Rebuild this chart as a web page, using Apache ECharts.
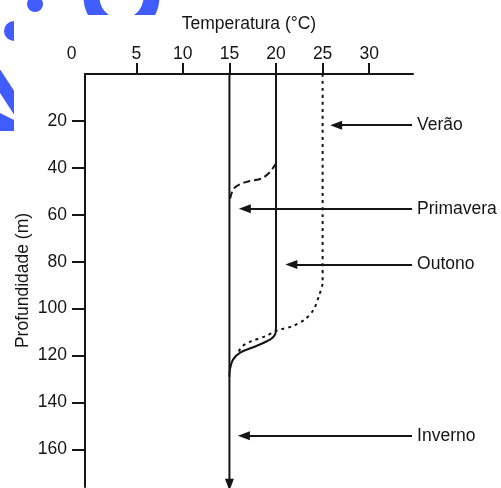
<!DOCTYPE html>
<html>
<head>
<meta charset="utf-8">
<script src="https://cdn.jsdelivr.net/npm/echarts@6/dist/echarts.min.js"></script>
<style>html,body{margin:0;padding:0;background:#fff;}#c{width:501px;height:488px;}</style>
</head>
<body>
<div id="c"></div>
<script>
// ---- data ----
const xTicks = [0, 5, 10, 15, 20, 25, 30];
const xTickMarks = [5, 10, 15, 20, 25, 30];
const yTicks = [20, 40, 60, 80, 100, 120, 140, 160];

const winterT = [15, 15];
const winterD = [0, 175];

const autumnT = [20, 20, 19.9, 19.4, 17.9, 16.2, 15.4, 15.05, 15];
const autumnD = [0, 108, 111, 113.1, 115.9, 118.6, 121.6, 125.9, 129];

const springT = [20, 19.3, 18.4, 17.2, 16.1, 15.4, 15.05];
const springD = [38, 42, 44.6, 45.6, 47, 49.2, 53.5];

const summerT = [25, 25, 24.6, 24.05, 23.1, 21.8, 20.5, 19.95, 18.9, 17.4, 16.4, 15.9];
const summerD = [0, 88.8, 94.6, 100.3, 104.6, 107.4, 108.8, 109.6, 111.7, 113.8, 116, 118.8];

const annoLabels = ['Verão', 'Primavera', 'Outono', 'Inverno'];
const annoDepth = [21.8, 57.4, 81.2, 154.2];
const annoTipT = [26.45, 16.65, 21.65, 16.55];
const annoTailT = [34.6, 34.6, 34.6, 34.6];

const xName = 'Temperatura (°C)';
const yName = 'Profundidade (m)';

// ---- chart ----
const FONT = 'Liberation Sans, Arial, sans-serif';
const FS = 17.5;
const INK = '#151515';
const BLUE = '#405cff';

function pairs(t, d) { return t.map((v, i) => [v, d[i]]); }

const winterData = pairs(winterT, winterD).map((p, i, a) => i === a.length - 1
  ? { value: p, symbol: 'triangle', symbolSize: [9, 12], symbolRotate: 180, itemStyle: { color: INK } }
  : { value: p, symbol: 'none' });

const markData = annoLabels.map((name, i) => [
  { coord: [annoTailT[i], annoDepth[i]], name: name },
  { coord: [annoTipT[i], annoDepth[i]] }
]);

const chart = echarts.init(document.getElementById('c'), null, { renderer: 'canvas' });
chart.setOption({
  backgroundColor: '#fff',
  animation: false,
  textStyle: { fontFamily: FONT },
  graphic: [
    { type: 'arc', z: 0, shape: { cx: 121.5, cy: -3, r: 30, startAngle: 0, endAngle: Math.PI }, style: { stroke: BLUE, lineWidth: 16, fill: null } },
    { type: 'circle', z: 0, shape: { cx: 35, cy: 4, r: 8 }, style: { fill: BLUE } },
    { type: 'circle', z: 0, shape: { cx: 14, cy: 31, r: 10 }, style: { fill: BLUE } },
    { type: 'line', z: 0, shape: { x1: -6, y1: 72, x2: 24, y2: 118 }, style: { stroke: BLUE, lineWidth: 13 } },
    { type: 'polygon', z: 0, shape: { points: [[0, 113], [16, 121], [16, 131], [0, 131]] }, style: { fill: BLUE } },
    { type: 'rect', z: 1, shape: { x: 14, y: 15, width: 520, height: 500 }, style: { fill: '#fff' } }
  ],
  grid: { left: 85, top: 74, right: 88, bottom: 1, containLabel: false, outerBoundsMode: 'none' },
  xAxis: {
    type: 'value', position: 'top', min: -0.5, max: 34.7, z: 5,
    name: xName, nameLocation: 'middle', nameGap: 41, nameMoveOverlap: false,
    nameTextStyle: { fontSize: FS, color: INK, fontFamily: FONT },
    axisLine: { show: true, onZero: false, lineStyle: { color: INK, width: 2 } },
    axisTick: { show: true, length: 11, customValues: xTickMarks, lineStyle: { color: INK, width: 2 } },
    axisLabel: {
      show: true, customValues: xTicks, margin: 11, fontSize: FS, color: INK, fontFamily: FONT,
      formatter: v => v === 0 ? '{z|0}' : String(v),
      rich: { z: { fontSize: FS, color: INK, fontFamily: FONT, padding: [0, 36, 0, 0] } }
    },
    splitLine: { show: false }
  },
  yAxis: {
    type: 'value', inverse: true, min: 0, max: 176, z: 5,
    name: yName, nameLocation: 'middle', nameGap: 53, nameMoveOverlap: false,
    nameTextStyle: { fontSize: FS, color: INK, fontFamily: FONT },
    axisLine: { show: true, onZero: false, lineStyle: { color: INK, width: 2 } },
    axisTick: { show: true, length: 13, customValues: yTicks, lineStyle: { color: INK, width: 2 } },
    axisLabel: { show: true, customValues: yTicks, margin: 18, fontSize: FS, color: INK, fontFamily: FONT },
    splitLine: { show: false }
  },
  series: [
    {
      name: 'Inverno', type: 'line', z: 6, clip: false, symbol: 'none', showSymbol: true,
      data: winterData, lineStyle: { color: INK, width: 2 },
      markLine: {
        silent: true, symbol: ['none', 'triangle'], symbolSize: [9, 12], z: 6,
        lineStyle: { color: INK, width: 2, type: 'solid' },
        label: { show: true, position: 'start', formatter: '{b}', fontSize: FS, color: INK, fontFamily: FONT, distance: 5 },
        data: markData
      }
    },
    {
      name: 'Outono', type: 'line', z: 6, clip: false, symbol: 'none', smooth: 0.3,
      data: pairs(autumnT, autumnD), lineStyle: { color: INK, width: 2 }
    },
    {
      name: 'Primavera', type: 'line', z: 6, clip: false, symbol: 'none', smooth: 0.3,
      data: pairs(springT, springD), lineStyle: { color: INK, width: 2, type: [7, 4] }
    },
    {
      name: 'Verão', type: 'line', z: 6, clip: false, symbol: 'none', smooth: 0.3,
      data: pairs(summerT, summerD), lineStyle: { color: INK, width: 2, type: [3, 4] }
    }
  ]
});
</script>
</body>
</html>
